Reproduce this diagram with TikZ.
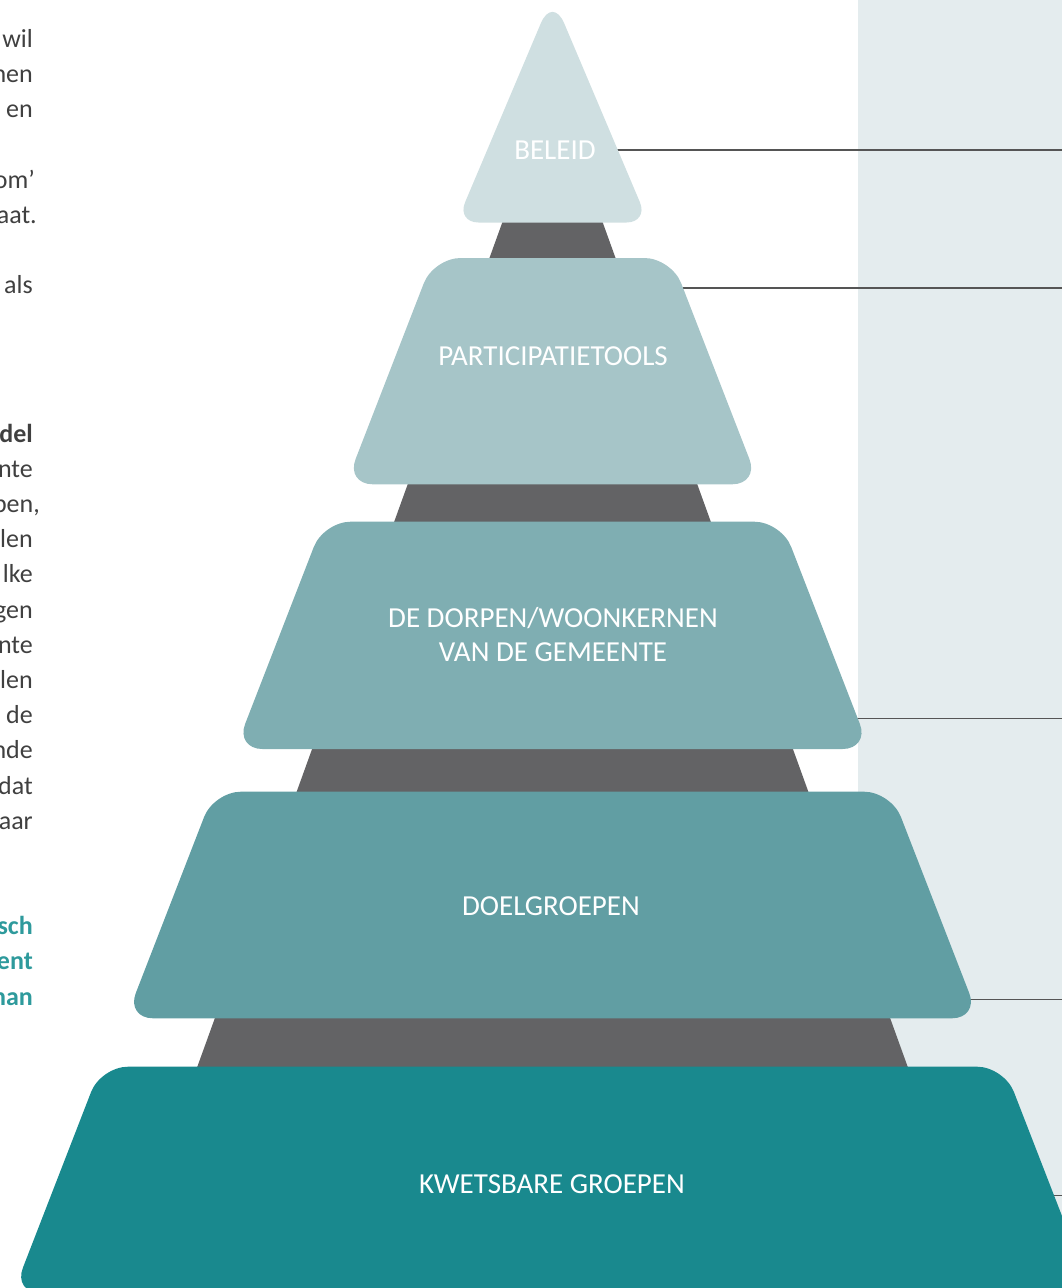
\documentclass[tikz,border=0pt]{standalone}
\usepackage{fontspec}
\setmainfont{Carlito}
\newfontfamily\lblfont{Carlito}
\definecolor{panel}{HTML}{E4ECEE}
\definecolor{darkcore}{HTML}{636365}
\definecolor{lvlA}{HTML}{CFDFE1}
\definecolor{lvlB}{HTML}{A6C5C8}
\definecolor{lvlC}{HTML}{7FAEB2}
\definecolor{lvlD}{HTML}{619EA3}
\definecolor{lvlE}{HTML}{19898E}
\definecolor{linegray}{HTML}{555555}
\definecolor{bodytext}{HTML}{404040}
\definecolor{tealtext}{HTML}{2E9A9C}
\tikzset{
  layer/.style={rounded corners=27pt},
  lbl/.style={text=white, font=\lblfont\fontsize{29}{34}\selectfont, align=center, inner sep=0pt},
  conn/.style={draw=linegray, line width=1.2pt},
  frag/.style={anchor=base east, inner sep=0pt, text=bodytext, font=\fontsize{26}{31}\selectfont},
  fragbold/.style={frag, font=\bfseries\fontsize{26}{31}\selectfont},
  fragteal/.style={frag, text=tealtext, font=\bfseries\fontsize{26}{31}\selectfont}
}
\begin{document}
\begin{tikzpicture}[x=1pt,y=-1pt]
\useasboundingbox (0,0) rectangle (1062,1288);
% right panel
\fill[panel] (858,0) rectangle (1062,1288);
% dark core behind the layers
\fill[darkcore] (510.4,200) -- (594.6,200) -- (919.7,1100) -- (185.3,1100) -- cycle;
% connectors (drawn under the layers)
\coordinate (cB1) at (612,150);   \coordinate (cB2) at (1062,150);
\coordinate (cP1) at (676,288);   \coordinate (cP2) at (1062,288);
\coordinate (cD1) at (852,718.5); \coordinate (cD2) at (1062,718.5);
\coordinate (cG1) at (962,999.3); \coordinate (cG2) at (1062,999.3);
\coordinate (cK1) at (1045,1195.7); \coordinate (cK2) at (1062,1195.7);
\draw[conn] (cB1) -- (cB2);
\draw[conn] (cP1) -- (cP2);
\draw[conn] (cD1) -- (cD2);
\draw[conn] (cG1) -- (cG2);
\draw[conn] (cK1) -- (cK2);
% layers
\fill[lvlA, rounded corners=22pt] (552.5,222.5) -- (648.5,222.5) [rounded corners=30pt] -- (552.5,-4.3) [rounded corners=22pt] -- (456.5,222.5) -- cycle;
\fill[lvlB, layer] (552.5,484.3) -- (759.2,484.3) -- (671.4,258) -- (433.6,258) -- (345.8,484.3) -- cycle;
\fill[lvlC, layer] (552.5,749) -- (869.6,749) -- (781.4,521.7) -- (323.6,521.7) -- (235.4,749) -- cycle;
\fill[lvlD, layer] (552.5,1018.3) -- (979,1018.3) -- (891.1,791.7) -- (213.9,791.7) -- (126,1018.3) -- cycle;
\fill[lvlE, layer] (552.5,1293) -- (1091.9,1293) -- (1004.1,1066.7) -- (100.9,1066.7) -- (13.1,1293) -- cycle;
% labels
\node[lbl] (tB) at (555,150) {BELEID};
\node[lbl] (tP) at (553,356) {PARTICIPATIETOOLS};
\node[lbl] (tD) at (553,635) {DE DORPEN/WOONKERNEN\\VAN DE GEMEENTE};
\node[lbl] (tG) at (551,906) {DOELGROEPEN};
\node[lbl] (tK) at (552,1184) {KWETSBARE GROEPEN};
% clipped body text on the left
\node[frag] (f1) at (33,47.5) {wil};
\node[frag] (f2) at (33,82.7) {nen};
\node[frag] (f3) at (33,117.9) {en};
\node[frag] (f4) at (35,188.3) {om’};
\node[frag] (f5) at (37,223.5) {aat.};
\node[frag] (f6) at (33,293.9) {als};
\node[fragbold] (g1) at (33,442) {del};
\node[frag] (g2) at (33,477.2) {nte};
\node[frag] (g3) at (40,512.4) {pen,};
\node[frag] (g4) at (33,547.6) {len};
\node[frag] (g5) at (33,582.8) {lke};
\node[frag] (g6) at (33,618) {gen};
\node[frag] (g7) at (33,653.2) {nte};
\node[frag] (g8) at (33,688.4) {len};
\node[frag] (g9) at (33,723.6) {de};
\node[frag] (g10) at (33,758.8) {nde};
\node[frag] (g11) at (33,794) {dat};
\node[frag] (g12) at (33,829.2) {aar};
\node[fragteal] (h1) at (33,934) {sch};
\node[fragteal] (h2) at (33,969.5) {ent};
\node[fragteal] (h3) at (33,1005) {han};
\end{tikzpicture}
\end{document}
